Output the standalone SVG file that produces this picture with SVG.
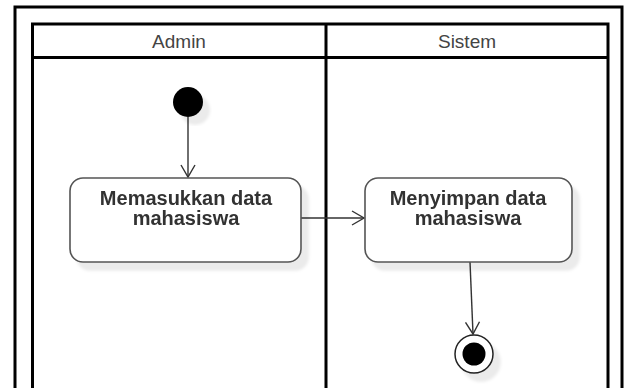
<svg xmlns="http://www.w3.org/2000/svg" width="628" height="388" viewBox="0 0 628 388">
  <defs>
    <filter id="shadow" x="-20%" y="-20%" width="150%" height="150%">
      <feGaussianBlur in="SourceAlpha" stdDeviation="1.5"/>
      <feOffset dx="7" dy="8" result="off"/>
      <feFlood flood-color="#000" flood-opacity="0.08"/>
      <feComposite in2="off" operator="in"/>
      <feMerge>
        <feMergeNode/>
        <feMergeNode in="SourceGraphic"/>
      </feMerge>
    </filter>
    <marker id="open-arrow" markerUnits="userSpaceOnUse" markerWidth="16" markerHeight="18" refX="13" refY="8" orient="auto">
      <path d="M1,1 L13,8 L1,15" fill="none" stroke="#333" stroke-width="1.4"/>
    </marker>
    <style>
      .frame { fill: none; stroke: #000; stroke-width: 3; }
      .lane-title { font-family: "Liberation Sans", Arial, sans-serif; font-size: 19px; fill: #444; text-anchor: middle; }
      .action { fill: #fff; stroke: #555; stroke-width: 1.6; }
      .action-label { font-family: "Liberation Sans", Arial, sans-serif; font-size: 20px; font-weight: bold; fill: #333; text-anchor: middle; }
      .flow { fill: none; stroke: #333; stroke-width: 1.4; marker-end: url(#open-arrow); }
    </style>
  </defs>

  <rect width="628" height="388" fill="#fff"/>

  <!-- outer frame -->
  <rect class="frame" x="15" y="7" width="607" height="400"/>

  <!-- swimlane pool -->
  <g id="pool">
    <rect class="frame" x="32.5" y="24" width="575.5" height="380"/>
    <line class="frame" x1="32.5" y1="57.5" x2="608" y2="57.5"/>
    <line class="frame" x1="326" y1="24" x2="326" y2="400"/>
  </g>

  <g id="lane-admin">
    <text class="lane-title" x="179" y="48">Admin</text>
  </g>
  <g id="lane-sistem">
    <text class="lane-title" x="467" y="48">Sistem</text>
  </g>

  <!-- connectors -->
  <g id="connectors">
    <line class="flow" x1="188" y1="117" x2="188" y2="177"/>
    <line class="flow" x1="301" y1="218" x2="364" y2="218"/>
    <line class="flow" x1="470" y1="262" x2="473" y2="334"/>
  </g>

  <g id="start" filter="url(#shadow)">
    <circle cx="188" cy="102" r="15" fill="#000"/>
  </g>

  <g id="memasukkan" filter="url(#shadow)">
    <rect class="action" x="70" y="178" width="231" height="84" rx="13"/>
    <text class="action-label" x="186" y="205">Memasukkan data</text>
    <text class="action-label" x="186" y="225">mahasiswa</text>
  </g>

  <g id="menyimpan" filter="url(#shadow)">
    <rect class="action" x="365" y="178" width="207" height="84" rx="13"/>
    <text class="action-label" x="468" y="205">Menyimpan data</text>
    <text class="action-label" x="468" y="225">mahasiswa</text>
  </g>

  <g id="end" filter="url(#shadow)">
    <circle cx="474" cy="354" r="19" fill="#fff" stroke="#222" stroke-width="1.5"/>
    <circle cx="474" cy="354" r="11.5" fill="#000"/>
  </g>
</svg>
